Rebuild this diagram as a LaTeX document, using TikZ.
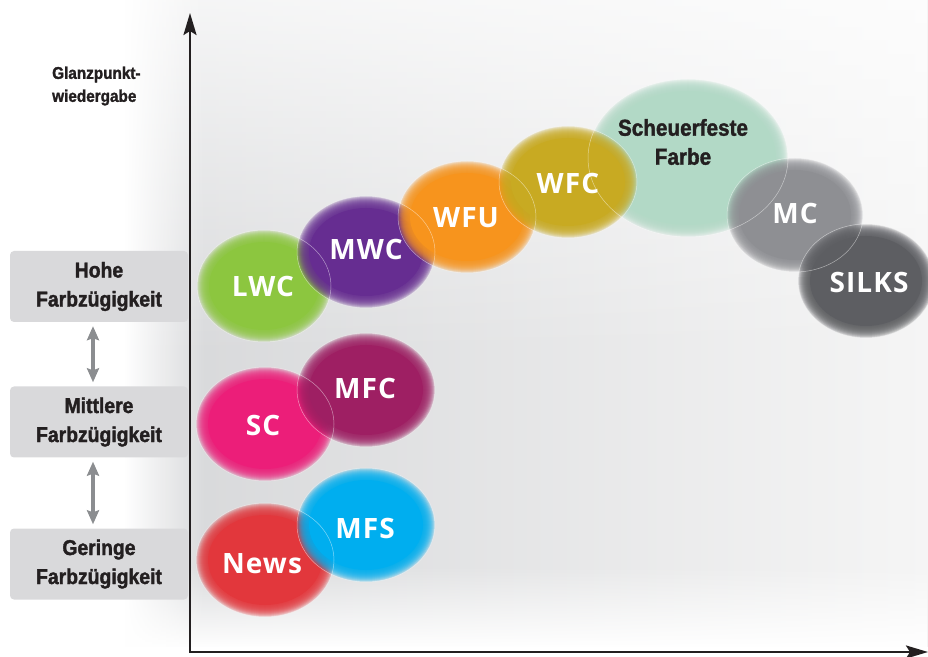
\documentclass[tikz,border=0pt]{standalone}
\usepackage{fontspec}
\setmainfont{Liberation Sans}
\newfontfamily\labelfont[FakeStretch=0.9, FakeBold=1.6]{Liberation Sans Bold}
\newfontfamily\tagfont[LetterSpace=4]{Open Sans}
\usetikzlibrary{arrows.meta,fadings}

\definecolor{ink}{HTML}{231F20}
\definecolor{boxgray}{HTML}{D9D9DB}
\definecolor{arrowgray}{HTML}{8B8D90}
\definecolor{bgA}{HTML}{D6D7D9}
\definecolor{bgB}{HTML}{DDDEE0}
\definecolor{bgC}{HTML}{F5F5F5}
\definecolor{lwcgreen}{HTML}{8CC63F}
\definecolor{mwcpurple}{HTML}{662D91}
\definecolor{wfuorange}{HTML}{F7941D}
\definecolor{wfcgold}{HTML}{C8AA22}
\definecolor{mint}{HTML}{B2D9C6}
\definecolor{mcgray}{HTML}{8E8F93}
\definecolor{silksgray}{HTML}{5D5E62}
\definecolor{scpink}{HTML}{EC1E79}
\definecolor{mfcwine}{HTML}{9E1F63}
\definecolor{newsred}{HTML}{E2373C}
\definecolor{mfscyan}{HTML}{00AEEF}

\tikzfading[name=fade to right, left color=transparent!0, right color=transparent!100]
\tikzfading[name=fade to top, bottom color=transparent!0, top color=transparent!100]
\tikzfading[name=fade to bottom, top color=transparent!0, bottom color=transparent!100]

\pgfdeclarelayer{rims}
\pgfsetlayers{main,rims}

\tikzset{
  axis/.style={line width=2.5pt, draw=ink,
    {Stealth[length=22pt,width=13pt,inset=4pt]}-{Stealth[length=22pt,width=13pt,inset=4pt]}},
  updown/.style={line width=4pt, draw=arrowgray, shorten <=4pt, shorten >=4pt,
    {Stealth[length=14pt,width=12pt,inset=2pt]}-{Stealth[length=14pt,width=12pt,inset=2pt]}},
  levelbox/.style={fill=boxgray, rounded corners=4pt, minimum width=178pt,
    minimum height=71pt, align=center, text=ink,
    font=\labelfont\fontsize{21.5}{29}\selectfont},
  gloss/.style={align=left, text=ink, anchor=west, inner sep=0pt,
    font=\labelfont\fontsize{17}{23}\selectfont},
  tag/.style={text=white, inner sep=0pt, font=\tagfont\bfseries\fontsize{28}{30}\selectfont},
  rim/.style={draw=white, line width=.5pt, opacity=.5},
}

% soft edged bubble: x, y, x radius, y radius, colour
\newcommand\blob[5]{%
  \foreach \k in {0,...,11}
    \fill[#5, opacity=.2] (#1,#2) ellipse [x radius=#3-\k, y radius=#4-\k];
  \fill[#5] (#1,#2) ellipse [x radius=#3-12, y radius=#4-12];
  \begin{pgfonlayer}{rims}
    \draw[rim] (#1,#2) ellipse [x radius=#3, y radius=#4];
  \end{pgfonlayer}
}

\begin{document}
\begin{tikzpicture}[x=1pt, y=1pt]
  \useasboundingbox (0,0) rectangle (928,656);

  % grey backdrop, fading out to the left, the top and the bottom
  \shade[left color=bgA, middle color=bgB, right color=bgC] (125,10) rectangle (928,656);
  \fill[white, opacity=.75, path fading=fade to bottom] (120,300) rectangle (928,656);
  \fill[white, path fading=fade to top] (120,8) rectangle (928,90);
  \fill[white, path fading=fade to right] (125,0) rectangle (205,656);

  % levels on the left
  \node[levelbox] (hohe) at (99,369.5) {Hohe\\Farbzügigkeit};
  \node[levelbox] (mittlere) at (99,234) {Mittlere\\Farbzügigkeit};
  \node[levelbox] (geringe) at (99,92) {Geringe\\Farbzügigkeit};
  \draw[updown] ([xshift=-6pt]hohe.south) -- ([xshift=-6pt]mittlere.north);
  \draw[updown] ([xshift=-6pt]mittlere.south) -- ([xshift=-6pt]geringe.north);

  \node[gloss] (gloss) at (52,570) {Glanzpunkt-\\wiedergabe};

  % axes
  \coordinate (ytip) at (190,643);
  \coordinate (xtip) at (928,4);
  \draw[axis] (ytip) |- (xtip);

  % bubbles, right ones lie on top
  \blob{688}{498}{100}{79}{mint}
  \blob{264}{370}{67}{56}{lwcgreen}
  \blob{366}{404}{69}{56}{mwcpurple}
  \blob{467}{439}{69}{56}{wfuorange}
  \blob{568}{474}{69}{56}{wfcgold}
  \blob{795}{441}{68}{57}{mcgray}
  \blob{866}{375}{68}{57}{silksgray}
  \blob{265}{232}{69}{57}{scpink}
  \blob{366}{266}{69}{57}{mfcwine}
  \blob{265}{96}{69}{57}{newsred}
  \blob{366}{131}{69}{57}{mfscyan}

  \node[tag] (lwc) at (263,369) {LWC};
  \node[tag] (mwc) at (366,406) {MWC};
  \node[tag] (wfu) at (466,438) {WFU};
  \node[tag] (wfc) at (568,472) {WFC};
  \node[tag] (mc) at (795,442) {MC};
  \node[tag] (silks) at (869,373) {SILKS};
  \node[tag] (sc) at (263,231) {SC};
  \node[tag] (mfc) at (365,268) {MFC};
  \node[tag] (news) at (262,92) {News};
  \node[tag] (mfs) at (365,128) {MFS};
  \node[levelbox, fill=none, font=\labelfont\fontsize{23}{29}\selectfont]
    (scheuer) at (683,514) {Scheuerfeste\\Farbe};
\end{tikzpicture}
\end{document}
